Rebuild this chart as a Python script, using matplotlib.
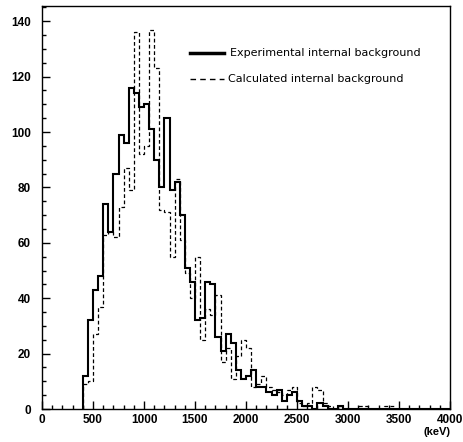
import numpy as np
import matplotlib
matplotlib.use("Agg")
import matplotlib.pyplot as plt
from matplotlib.ticker import MultipleLocator

bin_start = 400
bin_width = 50

experimental = [12, 32, 43, 48, 74, 64, 85, 99, 96, 116, 114, 109, 110, 101, 90, 80,
                105, 79, 82, 70, 51, 46, 32, 33, 46, 45, 26, 21, 27, 24, 14, 11,
                12, 14, 8, 8, 6, 5, 7, 3, 5, 6, 3, 1, 1, 0, 2, 1, 0, 0, 1, 0,
                0, 0, 0, 0, 0, 0, 0, 0, 0, 0, 0, 0, 0, 0, 0, 0, 0, 0, 0, 0]
calculated = [9, 10, 27, 37, 63, 64, 62, 73, 87, 79, 136, 92, 95, 137, 123, 72,
              71, 55, 83, 61, 49, 40, 55, 25, 36, 34, 41, 17, 22, 11, 19, 25,
              22, 8, 9, 12, 8, 7, 6, 5, 7, 8, 2, 1, 2, 8, 7, 2, 1, 0, 1, 0,
              0, 0, 1, 1, 0, 0, 0, 1, 1, 0, 0, 0, 0, 0, 0, 0, 0, 0, 0, 0]

x_ticks = [0, 500, 1000, 1500, 2000, 2500, 3000, 3500, 4000]
y_ticks = [0, 20, 40, 60, 80, 100, 120, 140]

edges = bin_start + bin_width * np.arange(len(experimental) + 1)

tick_family = ["Liberation Sans Narrow", "Liberation Sans", "DejaVu Sans"]

fig = plt.figure(figsize=(4.63, 4.42), dpi=100)
ax = fig.add_axes([42/463, 1 - 409/442, 408/463, 403/442])

ax.stairs(experimental, edges, color="black", lw=1.5)
ax.stairs(calculated, edges, color="black", lw=0.9, linestyle=(0, (3, 2)))

ax.set_xlim(0, 4000)
ax.set_ylim(0, 145.5)
ax.set_xticks(x_ticks)
ax.set_yticks(y_ticks)
ax.xaxis.set_minor_locator(MultipleLocator(100))
ax.yaxis.set_minor_locator(MultipleLocator(5))
ax.tick_params(which="both", direction="in", top=False, right=False,
               labelsize=8.5, width=1.0)
ax.tick_params(which="major", length=6)
ax.tick_params(which="minor", length=3)
ax.tick_params(axis="y", which="major", pad=8)
for s in ax.spines.values():
    s.set_linewidth(1.0)
for lab in ax.get_xticklabels() + ax.get_yticklabels():
    lab.set_fontweight("bold")
    lab.set_family(tick_family)

ax.text(1.0, -0.057, "(keV)", transform=ax.transAxes, ha="right", va="center",
        fontsize=8, fontweight="bold", family=tick_family)

# legend
ax.plot([0.363, 0.445], [0.883, 0.883], transform=ax.transAxes, color="black", lw=2.5)
ax.text(0.46, 0.883, "Experimental internal background", transform=ax.transAxes,
        ha="left", va="center", fontsize=8)
ax.plot([0.363, 0.445], [0.818, 0.818], transform=ax.transAxes, color="black", lw=1.0,
        linestyle=(0, (4, 3)))
ax.text(0.455, 0.818, "Calculated internal background", transform=ax.transAxes,
        ha="left", va="center", fontsize=8)

fig.savefig("out.png", dpi=100)
